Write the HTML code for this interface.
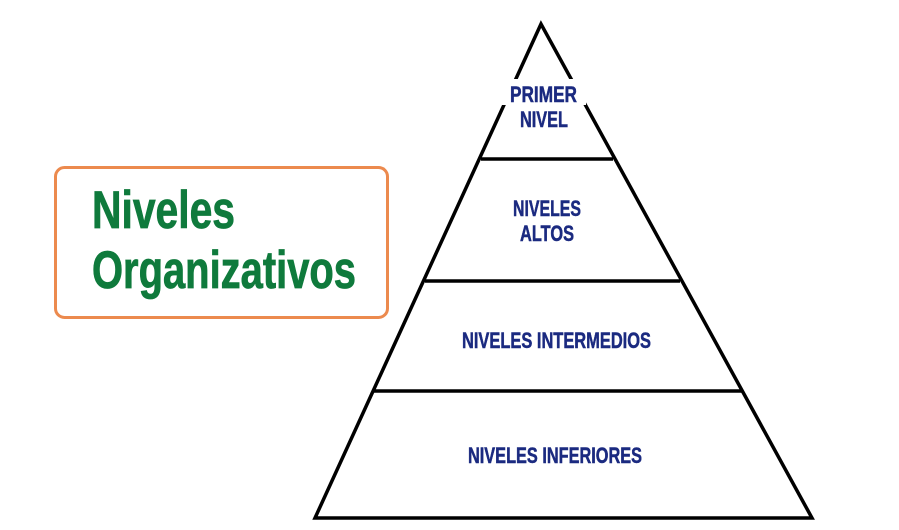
<!DOCTYPE html>
<html><head><style>html,body{margin:0;padding:0;background:#fff;}svg{display:block}</style></head>
<body>
<svg width="899" height="530" viewBox="0 0 899 530" xmlns="http://www.w3.org/2000/svg">
<rect x="55.5" y="167.5" width="332" height="150" rx="9" fill="#fff" stroke="#ec8a4e" stroke-width="3"/>
<g font-family="Liberation Sans, sans-serif" font-weight="bold" fill="#0f7a3c" stroke="#0f7a3c" stroke-width="0.8" font-size="53">
<text x="92" y="228" textLength="143" lengthAdjust="spacingAndGlyphs">Niveles</text>
<text x="92" y="288" textLength="264" lengthAdjust="spacingAndGlyphs">Organizativos</text>
</g>
<g stroke="#000" stroke-width="3.5" fill="none">
<polygon points="541,24 315,518 812,518"/>
<line x1="481" y1="159" x2="613" y2="159"/>
<line x1="425" y1="281" x2="680" y2="281"/>
<line x1="374" y1="391" x2="742" y2="391"/>
</g>
<rect x="502" y="79" width="84" height="26" fill="#fff"/>
<g font-family="Liberation Sans, sans-serif" font-weight="bold" fill="#1b2a80" stroke="#1b2a80" stroke-width="0.5" font-size="22">
<text x="510" y="102" textLength="67" lengthAdjust="spacingAndGlyphs">PRIMER</text>
<text x="520" y="127" textLength="48" lengthAdjust="spacingAndGlyphs">NIVEL</text>
<text x="513" y="216" textLength="68" lengthAdjust="spacingAndGlyphs">NIVELES</text>
<text x="520" y="241" textLength="54" lengthAdjust="spacingAndGlyphs">ALTOS</text>
<text x="462" y="348" textLength="189" lengthAdjust="spacingAndGlyphs">NIVELES INTERMEDIOS</text>
<text x="468" y="463" textLength="174" lengthAdjust="spacingAndGlyphs">NIVELES INFERIORES</text>
</g>
</svg>
</body></html>
